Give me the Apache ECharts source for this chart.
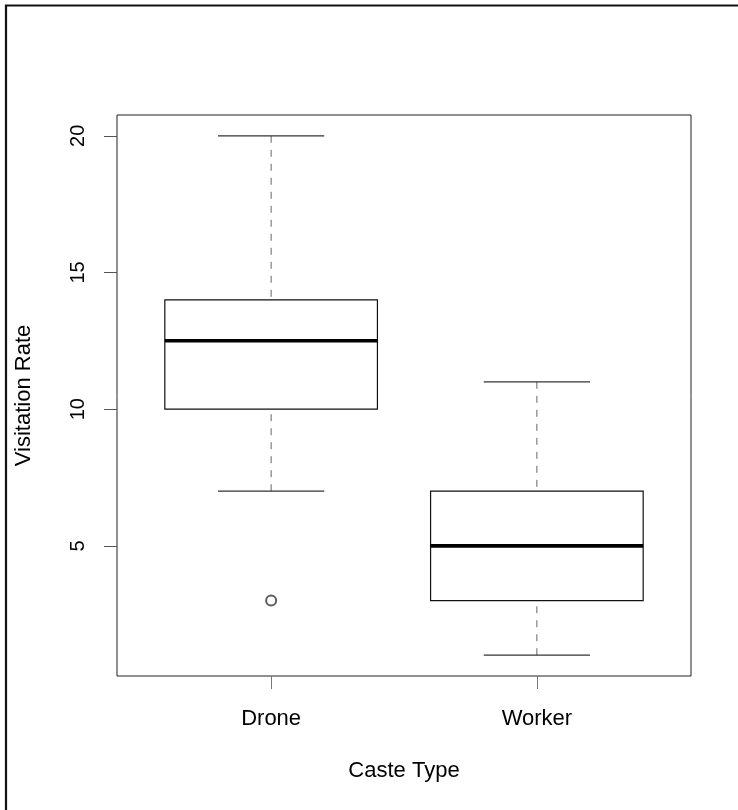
<!DOCTYPE html>
<html>
<head>
<meta charset="utf-8">
<title>Visitation Rate by Caste Type</title>
<script src="https://cdn.jsdelivr.net/npm/echarts@6/dist/echarts.min.js"></script>
<style>
  html, body { margin: 0; padding: 0; background: #fff; }
  #chart { width: 738px; height: 810px; }
</style>
</head>
<body>
<div id="chart"></div>
<script>
// Box-plot summaries per caste
const categories = ['Drone', 'Worker'];
const lowerWhisker = [7, 1];
const lowerQuartile = [10, 3];
const medians = [12.5, 5];
const upperQuartile = [14, 7];
const upperWhisker = [20, 11];
// Outlying observations
const outlierCaste = ['Drone'];
const outlierValue = [3];
// Axis ticks
const yTicks = [5, 10, 15, 20];

const boxData = categories.map((c, i) => [
  i + 1, lowerWhisker[i], lowerQuartile[i], medians[i], upperQuartile[i], upperWhisker[i]
]);
const outlierData = outlierCaste.map((c, i) => [categories.indexOf(c) + 1, outlierValue[i]]);

const FONT = 'Liberation Sans, Arial, Helvetica, sans-serif';
const chart = echarts.init(document.getElementById('chart'), null, { renderer: 'canvas' });

function renderBox(params, api) {
  const x = api.value(0);
  const lo = api.coord([x, api.value(1)]);
  const q1 = api.coord([x, api.value(2)]);
  const md = api.coord([x, api.value(3)]);
  const q3 = api.coord([x, api.value(4)]);
  const hi = api.coord([x, api.value(5)]);
  const bw = api.size([0.8, 0])[0];
  const sw = bw / 2;
  const cx = md[0];
  const whisker = { stroke: '#666', lineWidth: 1, lineDash: [7, 7] };
  const staple = { stroke: '#333', lineWidth: 1.2 };
  return {
    type: 'group',
    children: [
      { type: 'line', shape: { x1: cx, y1: hi[1], x2: cx, y2: q3[1] }, style: whisker },
      { type: 'line', shape: { x1: cx, y1: lo[1], x2: cx, y2: q1[1] }, style: whisker },
      { type: 'line', shape: { x1: cx - sw / 2, y1: hi[1], x2: cx + sw / 2, y2: hi[1] }, style: staple },
      { type: 'line', shape: { x1: cx - sw / 2, y1: lo[1], x2: cx + sw / 2, y2: lo[1] }, style: staple },
      { type: 'rect', shape: { x: cx - bw / 2, y: q3[1], width: bw, height: q1[1] - q3[1] },
        style: { fill: '#fff', stroke: '#111', lineWidth: 1.2 } },
      { type: 'line', shape: { x1: cx - bw / 2, y1: md[1], x2: cx + bw / 2, y2: md[1] },
        style: { stroke: '#000', lineWidth: 3.6 } }
    ]
  };
}

chart.setOption({
  animation: false,
  backgroundColor: '#fff',
  textStyle: { fontFamily: FONT, color: '#000' },
  graphic: [{
    type: 'rect',
    shape: { x: 6, y: 5.5, width: 800, height: 900 },
    style: { fill: 'none', stroke: '#111', lineWidth: 2.2 },
    z: 100
  }],
  grid: {
    left: 117, top: 115, right: 47, bottom: 134,
    show: true, borderColor: '#222', borderWidth: 1, backgroundColor: 'transparent'
  },
  xAxis: {
    type: 'value',
    min: 0.42, max: 2.58,
    splitLine: { show: false },
    axisLine: { show: false },
    axisTick: { show: true, length: 13, lineStyle: { color: '#777' }, customValues: [1, 2] },
    axisLabel: {
      show: true, customValues: [1, 2], margin: 32,
      fontSize: 22, fontFamily: FONT, color: '#000',
      formatter: v => categories[Math.round(v) - 1] || ''
    },
    name: 'Caste Type', nameLocation: 'middle', nameGap: 84,
    nameTextStyle: { fontSize: 22, fontFamily: FONT, color: '#000' }
  },
  yAxis: {
    type: 'value',
    min: 0.24, max: 20.76,
    splitLine: { show: false },
    axisLine: { show: false },
    axisTick: { show: true, length: 13, lineStyle: { color: '#555' }, customValues: yTicks },
    axisLabel: {
      show: true, customValues: yTicks, rotate: 90, margin: 29,
      fontSize: 20, fontFamily: FONT, color: '#000'
    },
    name: 'Visitation Rate', nameLocation: 'middle', nameGap: 82, nameRotate: 90,
    nameTextStyle: { fontSize: 22, fontFamily: FONT, color: '#000' }
  },
  series: [
    {
      type: 'custom',
      renderItem: renderBox,
      data: boxData,
      encode: { x: 0, y: [1, 2, 3, 4, 5] },
      clip: false
    },
    {
      type: 'scatter',
      data: outlierData,
      symbol: 'emptyCircle',
      symbolSize: 10,
      itemStyle: { color: '#333', borderWidth: 0.9 }
    }
  ]
});
</script>
</body>
</html>
